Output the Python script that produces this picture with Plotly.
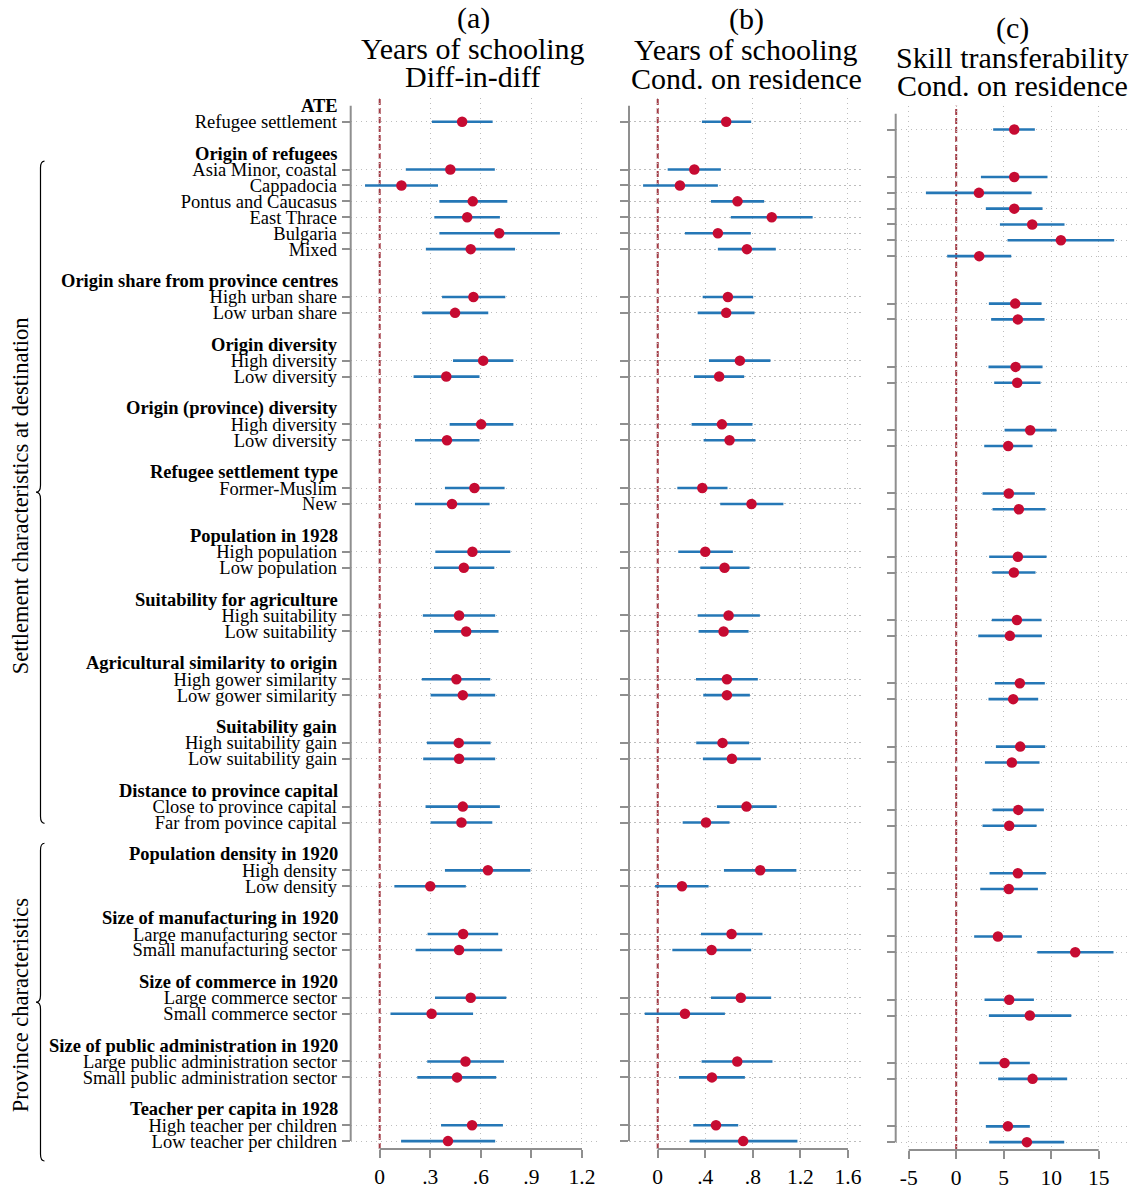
import plotly.graph_objects as go

FONT = "Liberation Serif, Times New Roman, DejaVu Serif, serif"
W, H = 1134, 1190

# ---- row structure: group headings and the split rows below each ----
group_headers = [
    "ATE",
    "Origin of refugees",
    "Origin share from province centres",
    "Origin diversity",
    "Origin (province) diversity",
    "Refugee settlement type",
    "Population in 1928",
    "Suitability for agriculture",
    "Agricultural similarity to origin",
    "Suitability gain",
    "Distance to province capital",
    "Population density in 1920",
    "Size of manufacturing in 1920",
    "Size of commerce in 1920",
    "Size of public administration in 1920",
    "Teacher per capita in 1928",
]
group_items = [
    ["Refugee settlement"],
    ["Asia Minor, coastal", "Cappadocia", "Pontus and Caucasus", "East Thrace", "Bulgaria", "Mixed"],
    ["High urban share", "Low urban share"],
    ["High diversity", "Low diversity"],
    ["High diversity", "Low diversity"],
    ["Former-Muslim", "New"],
    ["High population", "Low population"],
    ["High suitability", "Low suitability"],
    ["High gower similarity", "Low gower similarity"],
    ["High suitability gain", "Low suitability gain"],
    ["Close to province capital", "Far from povince capital"],
    ["High density", "Low density"],
    ["Large manufacturing sector", "Small manufacturing sector"],
    ["Large commerce sector", "Small commerce sector"],
    ["Large public administration sector", "Small public administration sector"],
    ["High teacher per children", "Low teacher per children"],
]
block_labels = ["Settlement characteristics at destination", "Province characteristics"]

# ---- (a) Years of schooling, diff-in-diff ----
est_a = [0.489, 0.419, 0.129, 0.552, 0.519, 0.709, 0.540, 0.556, 0.447, 0.614, 0.395,
         0.602, 0.399, 0.562, 0.429, 0.550, 0.499, 0.471, 0.513, 0.455, 0.493, 0.469,
         0.471, 0.493, 0.485, 0.642, 0.300, 0.495, 0.471, 0.540, 0.308, 0.509, 0.459,
         0.548, 0.405]
lo_a = [0.310, 0.155, -0.087, 0.354, 0.324, 0.354, 0.274, 0.370, 0.252, 0.435, 0.201,
        0.415, 0.209, 0.387, 0.209, 0.330, 0.322, 0.256, 0.322, 0.250, 0.302, 0.280,
        0.258, 0.272, 0.302, 0.387, 0.087, 0.284, 0.213, 0.328, 0.064, 0.282, 0.223,
        0.364, 0.127]
hi_a = [0.670, 0.683, 0.346, 0.757, 0.713, 1.069, 0.803, 0.745, 0.644, 0.793, 0.592,
        0.793, 0.592, 0.741, 0.652, 0.775, 0.680, 0.685, 0.705, 0.656, 0.685, 0.658,
        0.685, 0.713, 0.668, 0.894, 0.511, 0.703, 0.727, 0.751, 0.554, 0.737, 0.691,
        0.731, 0.685]

# ---- (b) Years of schooling, conditional on residence ----
est_b = [0.576, 0.308, 0.187, 0.671, 0.959, 0.506, 0.750, 0.590, 0.576, 0.691, 0.517,
         0.540, 0.604, 0.375, 0.789, 0.400, 0.562, 0.596, 0.554, 0.582, 0.582, 0.545,
         0.624, 0.747, 0.406, 0.862, 0.204, 0.621, 0.453, 0.699, 0.229, 0.669, 0.456,
         0.490, 0.719]
lo_b = [0.372, 0.084, -0.123, 0.448, 0.615, 0.229, 0.506, 0.378, 0.336, 0.431, 0.305,
        0.285, 0.386, 0.165, 0.526, 0.173, 0.358, 0.336, 0.344, 0.322, 0.383, 0.324,
        0.380, 0.498, 0.210, 0.557, -0.022, 0.364, 0.123, 0.448, -0.109, 0.369, 0.179,
        0.299, 0.269]
hi_b = [0.786, 0.531, 0.506, 0.895, 1.303, 0.783, 0.993, 0.803, 0.814, 0.948, 0.727,
        0.797, 0.822, 0.587, 1.057, 0.632, 0.772, 0.859, 0.764, 0.842, 0.775, 0.769,
        0.867, 1.001, 0.604, 1.166, 0.428, 0.881, 0.786, 0.954, 0.565, 0.965, 0.733,
        0.677, 1.175]

# ---- (c) Skill transferability, conditional on residence ----
est_c = [6.11, 6.11, 2.39, 6.11, 8.00, 11.02, 2.42, 6.21, 6.49, 6.25, 6.42,
         7.79, 5.47, 5.54, 6.60, 6.49, 6.07, 6.39, 5.65, 6.70, 6.00, 6.74,
         5.86, 6.53, 5.58, 6.49, 5.54, 4.39, 12.53, 5.58, 7.75, 5.09, 8.04,
         5.44, 7.44]
lo_c = [3.89, 2.60, -3.19, 3.12, 4.60, 5.40, -0.95, 3.44, 3.68, 3.40, 4.00,
        5.09, 2.95, 2.77, 3.82, 3.47, 3.79, 3.75, 2.32, 4.07, 3.40, 4.18,
        3.02, 3.82, 2.77, 3.51, 2.53, 1.89, 8.53, 2.98, 3.44, 2.42, 4.42,
        3.12, 3.47]
hi_c = [8.28, 9.61, 7.93, 9.09, 11.40, 16.63, 5.79, 8.98, 9.30, 9.09, 8.88,
        10.56, 8.04, 8.28, 9.40, 9.51, 8.35, 8.98, 9.02, 9.33, 8.63, 9.37,
        8.77, 9.23, 8.46, 9.44, 8.60, 6.91, 16.56, 8.18, 12.11, 7.75, 11.68,
        7.75, 11.37]

tick_a = [0, 0.3, 0.6, 0.9, 1.2]
ticktext_a = ["0", ".3", ".6", ".9", "1.2"]
tick_b = [0, 0.4, 0.8, 1.2, 1.6]
ticktext_b = ["0", ".4", ".8", "1.2", "1.6"]
tick_c = [-5, 0, 5, 10, 15]
ticktext_c = ["-5", "0", "5", "10", "15"]

panel_titles = [
    ["(a)", "Years of schooling", "Diff-in-diff"],
    ["(b)", "Years of schooling", "Cond. on residence"],
    ["(c)", "Skill transferability", "Cond. on residence"],
]

# ---- styling ----
RED = "#c60b32"
BLUE = "#2577b6"
ZERO = "#a23a44"
AXIS = "#8f8f8f"
GRID = "#bdbdbd"
LABEL_SIZE = 18.5

# ---- assign rows: heading, its items, then an empty spacer row ----
header_rows, item_rows, item_labels = [], [], []
r = 0
for hdr, items in zip(group_headers, group_items):
    header_rows.append(r)
    r += 1
    for it in items:
        item_rows.append(r)
        item_labels.append(it)
        r += 1
    r += 1
last_row = r - 2
y_range = [last_row + 0.5, -0.5]


def px_x(p):
    return p / W


def px_y(p):
    return 1 - p / H


# plot areas, in pixels (left, right, top, bottom)
areas = [
    (350.7, 598.0, 98.0, 1151.0),
    (629.0, 862.0, 98.0, 1151.0),
    (895.7, 1127.0, 106.0, 1152.0),
]
x_ranges = [[-0.172, 1.295], [-0.2414, 1.718], [-6.37, 17.98]]
ticks = [(tick_a, ticktext_a), (tick_b, ticktext_b), (tick_c, ticktext_c)]
series = [(est_a, lo_a, hi_a), (est_b, lo_b, hi_b), (est_c, lo_c, hi_c)]
title_pos = [(473, [18, 49, 77]), (746, [19, 50, 79]), (1012, [28, 58, 86])]

fig = go.Figure()
shapes, annotations = [], []

for i, ((est, lo, hi), area) in enumerate(zip(series, areas)):
    xa = "x" if i == 0 else f"x{i + 1}"
    ya = "y" if i == 0 else f"y{i + 1}"
    fig.add_trace(go.Scatter(
        x=est, y=item_rows, xaxis=xa, yaxis=ya, mode="markers",
        marker=dict(color=RED, size=10.5, line=dict(width=0)),
        error_x=dict(type="data", symmetric=False,
                     array=[h - e for h, e in zip(hi, est)],
                     arrayminus=[e - l for e, l in zip(est, lo)],
                     width=0, thickness=2.6, color=BLUE),
        showlegend=False, hoverinfo="skip",
    ))
    left, right, top, bottom = area
    tv, tt = ticks[i]
    xkey = "xaxis" if i == 0 else f"xaxis{i + 1}"
    ykey = "yaxis" if i == 0 else f"yaxis{i + 1}"
    fig.layout[xkey] = dict(
        domain=[px_x(left), px_x(right)], range=x_ranges[i], anchor=ya,
        tickvals=tv, ticktext=tt, ticks="outside", ticklen=8, tickwidth=2,
        tickcolor=AXIS, showline=False, zeroline=False,
        showgrid=True, gridcolor=GRID, gridwidth=1, griddash="1.5px,3.5px",
        tickfont=dict(family=FONT, size=21.5, color="black"),
    )
    fig.layout[ykey] = dict(
        domain=[px_y(bottom), px_y(top)], range=y_range, anchor=xa,
        tickvals=item_rows, ticktext=item_labels if i == 0 else None,
        showticklabels=(i == 0), ticks="outside", ticklen=8, tickwidth=1.5,
        tickcolor=AXIS, showline=False, zeroline=False,
        showgrid=True, gridcolor=GRID, gridwidth=1, griddash="1.5px,3.5px",
        tickfont=dict(family=FONT, size=LABEL_SIZE, color="black"),
        ticklabelstandoff=1,
    )
    # dashed reference line at zero
    shapes.append(dict(type="line", xref=xa, yref=f"{ya} domain", x0=0, x1=0, y0=0, y1=1,
                       line=dict(color=ZERO, width=2, dash="6px,3px"), layer="below"))
    # x axis line running between the outer ticks
    shapes.append(dict(type="line", xref=xa, yref="paper", x0=tv[0], x1=tv[-1],
                       y0=px_y(bottom), y1=px_y(bottom),
                       line=dict(color=AXIS, width=2)))
    # y axis line running between the first and last rows
    shapes.append(dict(type="line", xref="paper", yref=ya, x0=px_x(left), x1=px_x(left),
                       y0=0, y1=last_row, line=dict(color=AXIS, width=2)))
    # panel title, one annotation per line
    cx, ys = title_pos[i]
    for txt, yy in zip(panel_titles[i], ys):
        annotations.append(dict(text=txt, x=px_x(cx), y=px_y(yy), xref="paper", yref="paper",
                                xanchor="center", yanchor="middle", showarrow=False,
                                font=dict(family=FONT, size=30, color="black")))

# bold group headings beside the first panel's row labels
for hdr, row in zip(group_headers, header_rows):
    annotations.append(dict(text=f"<b>{hdr}</b>", x=px_x(339.5), y=row, xref="paper", yref="y",
                            xanchor="right", yanchor="middle", showarrow=False,
                            font=dict(family=FONT, size=LABEL_SIZE, color="black")))


# curly braces grouping the headings on the far left
def row_px(row):
    top, bottom = areas[0][2], areas[0][3]
    return top + (row - y_range[1]) / (y_range[0] - y_range[1]) * (bottom - top)


def brace_path(r0, r1, x_stem=40.5, x_end=44.5, x_tip=36.0, d=7.0):
    y0, y1 = row_px(r0), row_px(r1)
    ym = (y0 + y1) / 2

    def P(x, y):
        return f"{px_x(x):.5f},{px_y(y):.5f}"

    return (f"M{P(x_end, y0)} Q{P(x_stem, y0)} {P(x_stem, y0 + d)} "
            f"L{P(x_stem, ym - d)} Q{P(x_stem, ym)} {P(x_tip, ym)} "
            f"Q{P(x_stem, ym)} {P(x_stem, ym + d)} "
            f"L{P(x_stem, y1 - d)} Q{P(x_stem, y1)} {P(x_end, y1)}")


brace_spans = [(3.47, 45.05), (46.3, 66.25)]
brace_label_y = [497, 1007]
for (r0, r1), lab, ly in zip(brace_spans, block_labels, brace_label_y):
    shapes.append(dict(type="path", xref="paper", yref="paper", path=brace_path(r0, r1),
                       line=dict(color="black", width=1.2)))
    annotations.append(dict(text=lab, x=px_x(20), y=px_y(ly), xref="paper", yref="paper",
                            xanchor="center", yanchor="middle", textangle=-90, showarrow=False,
                            font=dict(family=FONT, size=22.5, color="black")))

fig.update_layout(
    width=W, height=H, margin=dict(l=0, r=0, t=0, b=0),
    paper_bgcolor="white", plot_bgcolor="white",
    shapes=shapes, annotations=annotations, showlegend=False,
)

fig.write_html("out.html")
